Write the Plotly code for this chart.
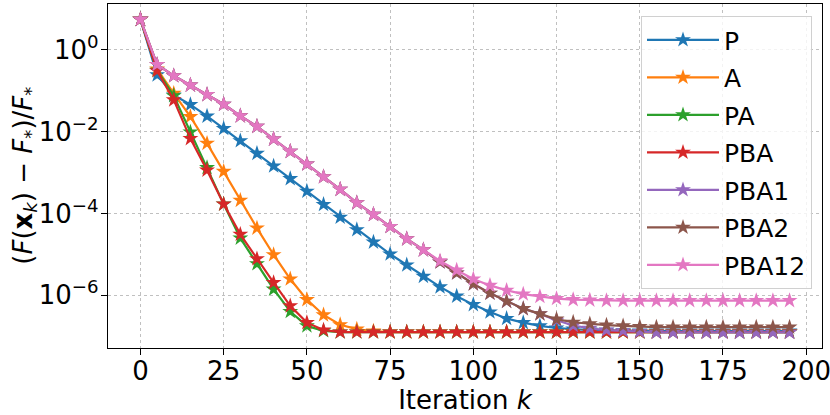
import plotly.graph_objects as go

# iteration index
iters = list(range(0, 200, 5))

# relative error (F(x_k) - F*)/F*
err_p = [5.6, 2.45e-1, 7.9e-2, 4.6e-2, 2.4e-2, 1.2e-2, 6.0e-3, 2.95e-3, 1.45e-3, 7.1e-4,
         3.5e-4, 1.66e-4, 8.1e-5, 4.0e-5, 2.0e-5, 1.02e-5, 5.5e-6, 2.9e-6, 1.6e-6, 9.5e-7,
         5.9e-7, 3.9e-7, 2.7e-7, 2.14e-7, 1.78e-7, 1.58e-7, 1.48e-7, 1.41e-7, 1.38e-7, 1.35e-7,
         1.32e-7, 1.32e-7, 1.32e-7, 1.32e-7, 1.32e-7, 1.32e-7, 1.32e-7, 1.32e-7, 1.32e-7, 1.32e-7]
err_a = [5.6, 3.4e-1, 8.7e-2, 2.34e-2, 5.2e-3, 1.07e-3, 2.1e-4, 4.4e-5, 9.8e-6, 2.5e-6,
         7.8e-7, 3.3e-7, 1.9e-7, 1.48e-7, 1.32e-7, 1.26e-7, 1.26e-7, 1.26e-7, 1.26e-7, 1.26e-7,
         1.26e-7, 1.26e-7, 1.26e-7, 1.26e-7, 1.26e-7, 1.26e-7, 1.26e-7, 1.26e-7, 1.26e-7, 1.26e-7,
         1.26e-7, 1.26e-7, 1.26e-7, 1.26e-7, 1.26e-7, 1.26e-7, 1.26e-7, 1.26e-7, 1.26e-7, 1.26e-7]
err_pa = [5.6, 3.16e-1, 7.6e-2, 9.8e-3, 1.32e-3, 1.7e-4, 2.5e-5, 5.9e-6, 1.41e-6, 4.0e-7,
          1.78e-7, 1.35e-7, 1.26e-7, 1.26e-7, 1.26e-7, 1.26e-7, 1.26e-7, 1.26e-7, 1.26e-7, 1.26e-7,
          1.26e-7, 1.26e-7, 1.26e-7, 1.26e-7, 1.26e-7, 1.26e-7, 1.26e-7, 1.26e-7, 1.26e-7, 1.26e-7,
          1.26e-7, 1.26e-7, 1.26e-7, 1.26e-7, 1.26e-7, 1.26e-7, 1.26e-7, 1.26e-7, 1.26e-7, 1.26e-7]
err_pba = [5.6, 3.1e-1, 6.0e-2, 6.8e-3, 1.15e-3, 1.7e-4, 3.1e-5, 7.8e-6, 2.04e-6, 5.5e-7,
           2.14e-7, 1.41e-7, 1.26e-7, 1.26e-7, 1.26e-7, 1.26e-7, 1.26e-7, 1.26e-7, 1.26e-7, 1.26e-7,
           1.26e-7, 1.26e-7, 1.26e-7, 1.26e-7, 1.26e-7, 1.26e-7, 1.26e-7, 1.26e-7, 1.26e-7, 1.26e-7,
           1.26e-7, 1.26e-7, 1.26e-7, 1.26e-7, 1.26e-7, 1.26e-7, 1.26e-7, 1.26e-7, 1.26e-7, 1.26e-7]
err_pba1 = [5.6, 4.4e-1, 2.34e-1, 1.38e-1, 8.1e-2, 4.7e-2, 2.45e-2, 1.35e-2, 6.6e-3, 3.3e-3,
            1.62e-3, 7.9e-4, 3.9e-4, 1.82e-4, 9.5e-5, 4.8e-5, 2.4e-5, 1.29e-5, 6.5e-6, 3.5e-6,
            1.9e-6, 1.12e-6, 7.1e-7, 4.7e-7, 3.5e-7, 2.45e-7, 1.82e-7, 1.55e-7, 1.41e-7, 1.35e-7,
            1.29e-7, 1.23e-7, 1.23e-7, 1.23e-7, 1.23e-7, 1.23e-7, 1.23e-7, 1.23e-7, 1.23e-7, 1.23e-7]
err_pba2 = [5.6, 4.4e-1, 2.34e-1, 1.38e-1, 8.1e-2, 4.7e-2, 2.45e-2, 1.35e-2, 6.6e-3, 3.3e-3,
            1.62e-3, 7.9e-4, 3.9e-4, 1.82e-4, 9.5e-5, 4.8e-5, 2.4e-5, 1.29e-5, 6.5e-6, 3.5e-6,
            1.9e-6, 1.12e-6, 7.1e-7, 4.7e-7, 3.5e-7, 2.6e-7, 2.19e-7, 2.0e-7, 1.86e-7, 1.78e-7,
            1.7e-7, 1.66e-7, 1.66e-7, 1.66e-7, 1.66e-7, 1.66e-7, 1.66e-7, 1.66e-7, 1.66e-7, 1.66e-7]
err_pba12 = [5.6, 4.4e-1, 2.34e-1, 1.38e-1, 8.1e-2, 4.7e-2, 2.45e-2, 1.35e-2, 6.6e-3, 3.3e-3,
             1.62e-3, 7.9e-4, 3.9e-4, 1.82e-4, 9.5e-5, 4.8e-5, 2.4e-5, 1.29e-5, 6.9e-6, 4.1e-6,
             2.5e-6, 1.74e-6, 1.32e-6, 1.07e-6, 9.3e-7, 8.3e-7, 7.8e-7, 7.6e-7, 7.4e-7, 7.4e-7,
             7.4e-7, 7.4e-7, 7.4e-7, 7.4e-7, 7.4e-7, 7.4e-7, 7.4e-7, 7.4e-7, 7.4e-7, 7.4e-7]

names = ["P", "A", "PA", "PBA", "PBA1", "PBA2", "PBA12"]
series = [err_p, err_a, err_pa, err_pba, err_pba1, err_pba2, err_pba12]
colors = ["#1f77b4", "#ff7f0e", "#2ca02c", "#d62728", "#9467bd", "#8c564b", "#e377c2"]

ytick_vals = [1, 1e-2, 1e-4, 1e-6]
ytick_text = ["10<sup>0</sup>", "10<sup>−2</sup>", "10<sup>−4</sup>", "10<sup>−6</sup>"]
xtick_vals = [0, 25, 50, 75, 100, 125, 150, 175, 200]

FS = 26

fig = go.Figure()
for name, ys, col in zip(names, series, colors):
    fig.add_trace(go.Scatter(
        x=iters, y=ys, name=name, legendgroup=name, mode="lines+markers",
        line=dict(color=col, width=2.2),
        marker=dict(symbol="star", size=12, color=col, line=dict(width=0)),
    ))

axis_common = dict(
    showline=True, linecolor="black", linewidth=1.3, mirror=True,
    ticks="outside", ticklen=6, tickcolor="black", tickwidth=1.2,
    showgrid=True, gridcolor="#c0c0c0", griddash="dot", gridwidth=1,
    zeroline=False, automargin=False, ticklabeloverflow="allow",
    tickfont=dict(size=FS, color="black"),
)

fig.update_layout(
    width=830, height=415,
    margin=dict(l=108, r=8, t=4, b=67),
    plot_bgcolor="white", paper_bgcolor="white",
    font=dict(family="DejaVu Sans", size=FS, color="black"),
    showlegend=True,
    legend=dict(
        x=0.986, y=0.965, xanchor="right", yanchor="top",
        bgcolor="rgba(255,255,255,0.8)", bordercolor="#d0d0d0", borderwidth=1,
        font=dict(size=25), itemwidth=72, tracegroupgap=2,
    ),
    xaxis=dict(
        axis_common, range=[-9.75, 204.75], tickvals=xtick_vals,
        ticklabelstandoff=-6,
        title=dict(text="Iteration <i>k</i>", font=dict(size=FS), standoff=0),
    ),
    yaxis=dict(
        axis_common, type="log", range=[-7.29, 1.125],
        tickvals=ytick_vals, ticktext=ytick_text, ticklabelstandoff=-3,
    ),
)

# y-axis title placed by hand so it sits close to the tick labels
fig.add_annotation(
    text="(<i>F</i>(<b>x</b><sub><i>k</i></sub>) − <i>F</i><sub>*</sub>)/<i>F</i><sub>*</sub>",
    xref="paper", yref="paper", x=-0.118, y=0.5,
    xanchor="center", yanchor="middle", textangle=-90,
    showarrow=False, font=dict(size=FS),
)

fig.write_html("out.html", config={"displayModeBar": False},
               post_script="document.body.style.margin='0';")
